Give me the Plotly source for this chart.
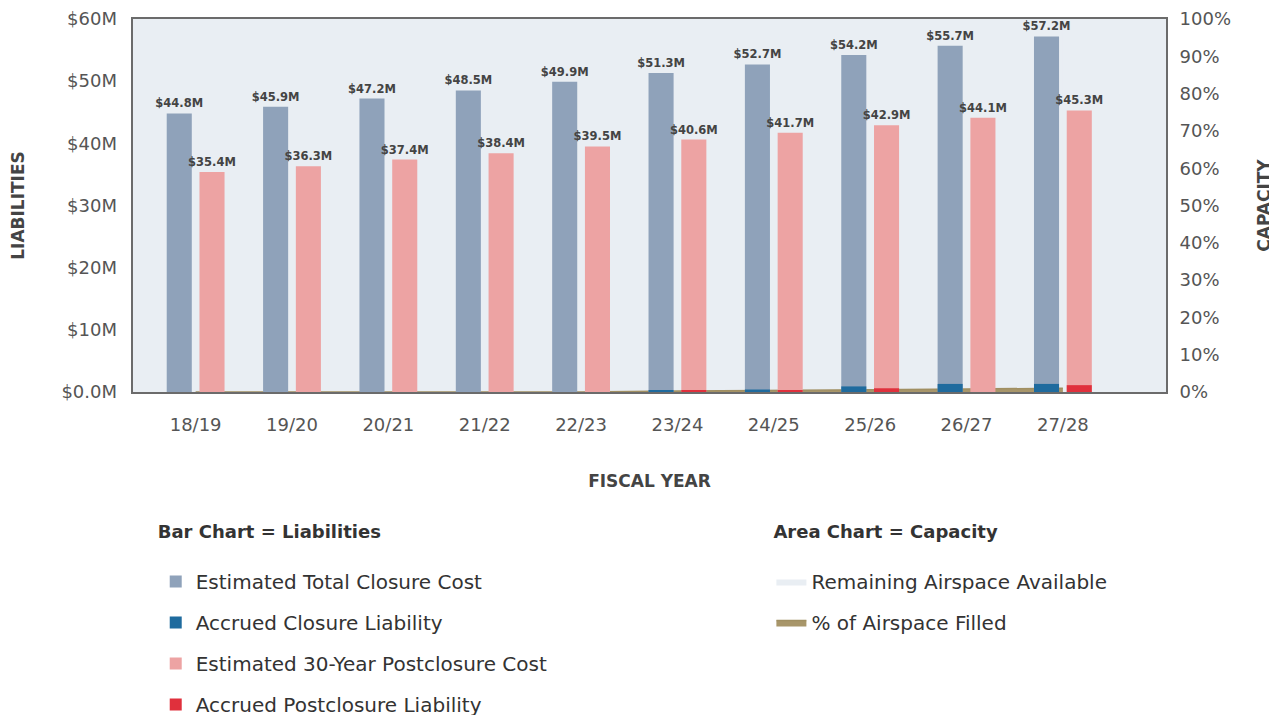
import plotly.graph_objects as go

# Data
years = ["18/19", "19/20", "20/21", "21/22", "22/23",
         "23/24", "24/25", "25/26", "26/27", "27/28"]
est_closure = [44.8, 45.9, 47.2, 48.5, 49.9, 51.3, 52.7, 54.2, 55.7, 57.2]
accrued_closure = [0, 0, 0, 0, 0, 0.3, 0.4, 0.9, 1.3, 1.3]
est_postclosure = [35.4, 36.3, 37.4, 38.4, 39.5, 40.6, 41.7, 42.9, 44.1, 45.3]
accrued_postclosure = [0, 0, 0, 0, 0, 0.2, 0.3, 0.6, 0, 1.1]
pct_filled = [0, 0, 0, 0, 0, 0.3, 0.4, 0.6, 0.8, 1.0]
pct_remaining = [100 - p for p in pct_filled]

liab_ticks = [0, 10, 20, 30, 40, 50, 60]
liab_ticktext = ["$0.0M", "$10M", "$20M", "$30M", "$40M", "$50M", "$60M"]

FONT = "DejaVu Sans"
AREA_BG = "#e9eef3"
x = list(range(len(years)))

fig = go.Figure()

# area chart (capacity) sits on the base axis "y" (drawn on the right) so the
# bars on the overlaying "y2" are painted above it
fig.add_trace(go.Scatter(
    x=x, y=pct_filled, yaxis="y", stackgroup="cap", mode="lines",
    line=dict(color="#a08f62", width=1.5), fillcolor="#a8966a",
    name="% of Airspace Filled", legend="legend2", legendrank=2,
))
fig.add_trace(go.Scatter(
    x=x, y=pct_remaining, yaxis="y", stackgroup="cap", mode="lines",
    line=dict(color=AREA_BG, width=0), fillcolor=AREA_BG,
    name="Remaining Airspace Available", legend="legend2", legendrank=1,
))

label_font = dict(family=FONT, size=11.5, color="#444", weight="bold")

# bar chart (liabilities) on the left axis; accrued bars overlay their estimate
fig.add_trace(go.Bar(
    x=x, y=est_closure, yaxis="y2", offsetgroup="closure",
    marker=dict(color="#8fa2ba", line=dict(width=0)),
    text=[f"${v:.1f}M" for v in est_closure], textposition="outside",
    textfont=label_font, cliponaxis=False, constraintext="none",
    name="Estimated Total Closure Cost", legendrank=1,
))
fig.add_trace(go.Bar(
    x=x, y=accrued_closure, yaxis="y2", offsetgroup="closure",
    marker=dict(color="#1f6b9e", line=dict(width=0)),
    name="Accrued Closure Liability", legendrank=2,
))
fig.add_trace(go.Bar(
    x=x, y=est_postclosure, yaxis="y2", offsetgroup="post",
    marker=dict(color="#eda3a3", line=dict(width=0)),
    text=[f"${v:.1f}M" for v in est_postclosure], textposition="outside",
    textfont=label_font, cliponaxis=False, constraintext="none",
    name="Estimated 30-Year Postclosure Cost", legendrank=3,
))
fig.add_trace(go.Bar(
    x=x, y=accrued_postclosure, yaxis="y2", offsetgroup="post",
    marker=dict(color="#e0303c", line=dict(width=0)),
    name="Accrued Postclosure Liability", legendrank=4,
))

# every trace in its own legend group so tracegroupgap spaces the items
for i, tr in enumerate(fig.data):
    tr.legendgroup = f"g{i}"

fig.update_layout(
    width=1277, height=715,
    margin=dict(l=125, r=119, t=11, b=331, autoexpand=False),
    barmode="group", bargap=0.32, bargroupgap=0.235,
    paper_bgcolor="white", plot_bgcolor=AREA_BG,
    font=dict(family=FONT, color="#555"),
    xaxis=dict(
        range=[-0.65, 10.07], tickvals=x, ticktext=years,
        tickfont=dict(size=18, color="#555"), ticks="",
        showgrid=False, zeroline=False, automargin=False,
        ticklabelstandoff=15,
        showline=True, linecolor="#6b6b6b", linewidth=2, mirror=True,
        title=dict(text="<b>FISCAL YEAR</b>", standoff=42,
                   font=dict(size=17, color="#444")),
    ),
    yaxis=dict(
        side="right", range=[0, 100], dtick=10,
        ticksuffix="%", tickfont=dict(size=18, color="#555"), ticks="",
        showgrid=False, zeroline=False, ticklabelstandoff=8, automargin=False,
        ticklabeloverflow="allow",
        showline=True, linecolor="#6b6b6b", linewidth=2, mirror=True,
        title=dict(text="<b>CAPACITY</b>", standoff=28,
                   font=dict(size=17, color="#444")),
    ),
    yaxis2=dict(
        overlaying="y", side="left", range=[0, 60],
        tickvals=liab_ticks, ticktext=liab_ticktext,
        tickfont=dict(size=18, color="#555"), ticks="",
        showgrid=False, zeroline=False, ticklabelstandoff=15, automargin=False,
        ticklabeloverflow="allow",
        title=dict(text="<b>LIABILITIES</b>", standoff=32,
                   font=dict(size=17, color="#444")),
    ),
    legend=dict(
        x=0.022, y=-0.33, xanchor="left", yanchor="top",
        title=dict(text="<b>Bar Chart = Liabilities</b><br> ",
                   font=dict(size=18, color="#333")),
        font=dict(size=20, color="#333"),
        traceorder="grouped", tracegroupgap=12, bgcolor="rgba(0,0,0,0)",
    ),
    legend2=dict(
        x=0.618, y=-0.33, xanchor="left", yanchor="top",
        title=dict(text="<b>Area Chart = Capacity</b><br> ",
                   font=dict(size=18, color="#333")),
        font=dict(size=20, color="#333"),
        traceorder="grouped", tracegroupgap=12, bgcolor="rgba(0,0,0,0)",
    ),
)

fig.write_html("out.html")
